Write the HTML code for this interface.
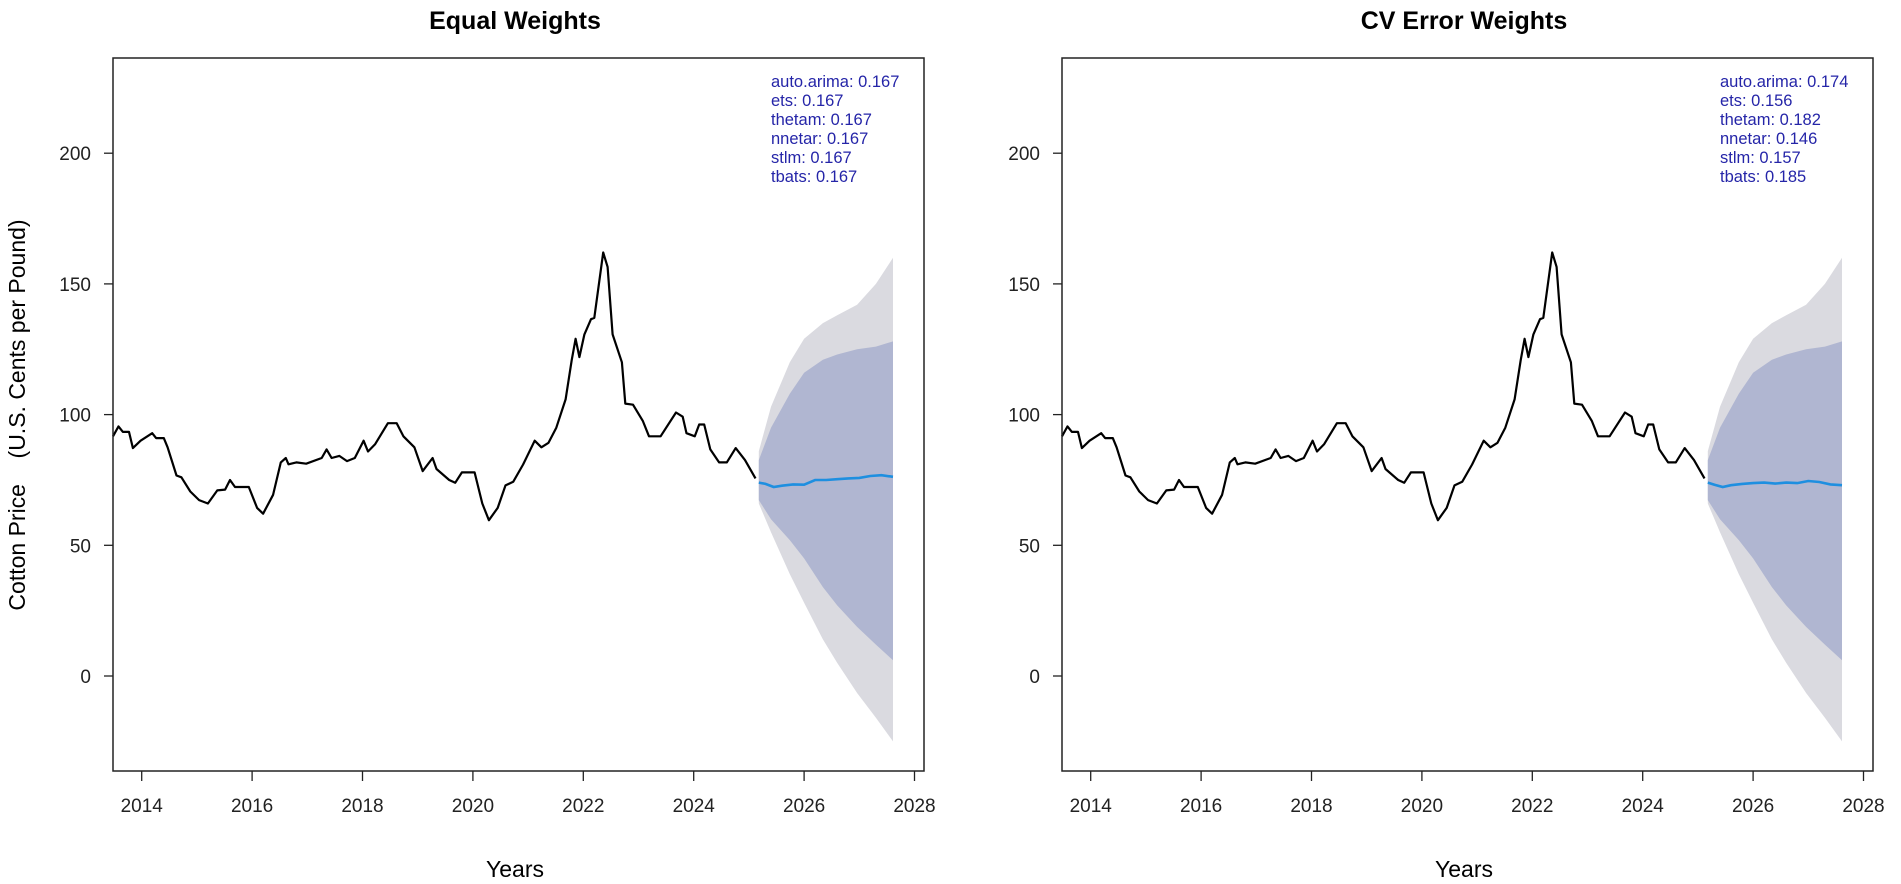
<!DOCTYPE html>
<html><head><meta charset="utf-8"><style>
html,body{margin:0;padding:0;background:#fff;}
svg{display:block;font-family:"Liberation Sans",sans-serif;}
</style></head><body>
<svg id="chart" width="1901" height="884" viewBox="0 0 1901 884"></svg>
<script>
const histYears=[2013.48,2013.58,2013.66,2013.77,2013.84,2013.98,2014.19,2014.26,2014.4,2014.47,2014.63,2014.72,2014.88,2015.04,2015.2,2015.37,2015.51,2015.6,2015.69,2015.94,2016.09,2016.2,2016.38,2016.52,2016.61,2016.66,2016.8,2016.98,2017.26,2017.35,2017.44,2017.58,2017.72,2017.86,2018.02,2018.1,2018.23,2018.46,2018.62,2018.74,2018.94,2019.09,2019.27,2019.34,2019.57,2019.68,2019.8,2020.03,2020.17,2020.29,2020.45,2020.59,2020.73,2020.91,2021.12,2021.24,2021.37,2021.51,2021.68,2021.79,2021.86,2021.93,2022.02,2022.14,2022.2,2022.36,2022.44,2022.53,2022.7,2022.76,2022.9,2023.08,2023.19,2023.4,2023.68,2023.8,2023.87,2024.02,2024.1,2024.19,2024.3,2024.46,2024.6,2024.76,2024.93,2025.12];
const histValues=[91.7,95.5,93.4,93.4,87.2,90,92.9,91,91,87.5,76.7,76,70.6,67.3,66,71,71.3,75,72.3,72.3,64.3,62.1,69.3,81.7,83.4,81,81.7,81.2,83.4,86.7,83.4,84.2,82.2,83.4,90,85.9,88.7,96.7,96.7,91.7,87.5,78.4,83.4,79.2,75,73.9,77.9,77.9,66,59.6,64.3,72.9,74.3,80.9,90,87.5,89.2,95,105.8,120.8,129,122,130.7,136.5,137,162,156.5,130.7,120,104.2,103.8,97.5,91.7,91.7,100.8,99.2,92.9,91.7,96.2,96.2,86.7,81.7,81.7,87.2,82.6,75.6];
const fcYears=[2025.18,2025.4,2025.74,2026.0,2026.34,2026.6,2026.96,2027.3,2027.61];
const hi95=[86,103,120,129,135,138,142,150,160];
const hi80=[82.6,95,108,116,121,123,125,126,128];
const lo80=[67.3,60,52,45,34,27,18.8,12,6];
const lo95=[66,55,39,28,14,5,-6.5,-16,-25];
const meanYearsL=[2025.18,2025.3,2025.45,2025.6,2025.8,2026.0,2026.2,2026.4,2026.6,2026.8,2027.0,2027.2,2027.4,2027.61];
const meanEqual=[74,73.5,72.3,72.8,73.3,73.2,75,75,75.3,75.6,75.8,76.5,76.8,76.2];
const meanCV=[74,73.2,72.3,73,73.5,73.8,74,73.6,74,73.8,74.6,74.2,73.3,73];
const yTicks=[0,50,100,150,200];
const xTicks=[2014,2016,2018,2020,2022,2024,2026,2028];
const titles=["Equal Weights","CV Error Weights"];
const legendNames=["auto.arima","ets","thetam","nnetar","stlm","tbats"];
const weightsEqual=["0.167","0.167","0.167","0.167","0.167","0.167"];
const weightsCV=["0.174","0.156","0.182","0.146","0.157","0.185"];

const NS="http://www.w3.org/2000/svg";
const svgEl=document.getElementById('chart');
function mk(tag,attrs,parent,text){const e=document.createElementNS(NS,tag);for(const k in attrs)e.setAttribute(k,attrs[k]);if(text!==undefined)e.textContent=text;(parent||svgEl).appendChild(e);return e;}
const plotTop=58,plotBot=771,plotW=811;
function yS(v){return 676-(v*2.614);}
function panel(idx,off,means,weights){
  const g=mk('g',{});
  
  
  const xS=y=>off+113+(y-2013.48)*55.2;
  const L=off+113;
  const band=(hi,lo,col,name)=>{let d='';fcYears.forEach((y,i)=>{d+=(i?'L':'M')+xS(y).toFixed(1)+','+yS(hi[i]).toFixed(1);});for(let i=fcYears.length-1;i>=0;i--)d+='L'+xS(fcYears[i]).toFixed(1)+','+yS(lo[i]).toFixed(1);d+='Z';const p=mk('path',{d:d,fill:col},g);};
  band(hi95,lo95,'#dadae0','interval-95');
  band(hi80,lo80,'#b0b6d1','interval-80');
  let d='';histYears.forEach((y,i)=>{d+=(i?'L':'M')+xS(y).toFixed(1)+','+yS(histValues[i]).toFixed(1);});
  const h=mk('path',{d:d,fill:'none',stroke:'#000','stroke-width':2.2,'stroke-linejoin':'round'},g);
  
  
  d='';meanYearsL.forEach((y,i)=>{d+=(i?'L':'M')+xS(y).toFixed(1)+','+yS(means[i]).toFixed(1);});
  const m=mk('path',{d:d,fill:'none',stroke:'#1e8fe0','stroke-width':2.6},g);
  
  
  const box=mk('rect',{x:L,y:plotTop,width:plotW,height:plotBot-plotTop,fill:'none',stroke:'#222','stroke-width':1.5},g);
  
  
  yTicks.forEach(v=>{const y=yS(v);mk('line',{x1:L-9,x2:L,y1:y,y2:y,stroke:'#222','stroke-width':1.3},g);const t=mk('text',{x:L-22,y:y+7,'text-anchor':'end','font-size':19,fill:'#222'},g,String(v));});
  xTicks.forEach(v=>{const x=xS(v);mk('line',{x1:x,x2:x,y1:plotBot,y2:plotBot+10,stroke:'#222','stroke-width':1.3},g);const t=mk('text',{x:x,y:plotBot+41,'text-anchor':'middle','font-size':19,fill:'#222'},g,String(v));});
  const ti=mk('text',{x:off+515,y:29,'text-anchor':'middle','font-size':25,'font-weight':'bold',fill:'#000'},g,titles[idx]);
  
  
  const xl=mk('text',{x:off+515,y:877,'text-anchor':'middle','font-size':23,fill:'#000'},g,'Years');
  
  
  legendNames.forEach((n,i)=>{const t=mk('text',{x:off+771,y:87+i*19,'font-size':16.5,fill:'#2525a8'},g,n+': '+weights[i]);});
}
panel(0,0,meanEqual,weightsEqual);
panel(1,949,meanCV,weightsCV);
const yl=mk('text',{x:0,y:0,transform:'translate(25,415) rotate(-90)','text-anchor':'middle','font-size':23,fill:'#000',style:'white-space:pre'},svgEl,'Cotton Price    (U.S. Cents per Pound)');


</script>
</body></html>
